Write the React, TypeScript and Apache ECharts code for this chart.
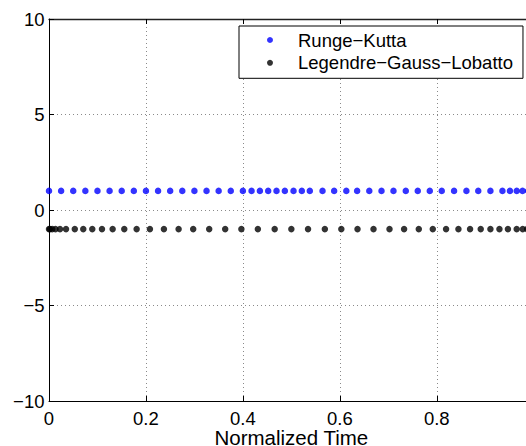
import React, { useEffect, useRef } from "react";
import * as echarts from "echarts";

// Runge-Kutta sample times (normalized), value 1
const rkTimes = [
  0, 0.025, 0.05, 0.075, 0.1, 0.125, 0.15, 0.175, 0.2, 0.225, 0.25, 0.275, 0.3,
  0.325, 0.35, 0.375, 0.4, 0.4179, 0.4351, 0.4522, 0.4694, 0.4866, 0.5045,
  0.5216, 0.5381, 0.5643, 0.5883, 0.6134, 0.6357, 0.6608, 0.686, 0.7107,
  0.7361, 0.7608, 0.7856, 0.8103, 0.8357, 0.8612, 0.8856, 0.9107, 0.9355,
  0.951, 0.965, 0.977, 0.9885, 1.0,
];
const rkValue = 1;

// Legendre-Gauss-Lobatto nodes (normalized), value -1
const lglTimes = [
  0, 0.0021, 0.0066, 0.0134, 0.0227, 0.0351, 0.0532, 0.0707, 0.0893, 0.1093,
  0.1313, 0.1553, 0.1808, 0.2082, 0.2371, 0.2674, 0.2975, 0.3305, 0.3635,
  0.3969, 0.4309, 0.4656, 0.5, 0.5344, 0.5691, 0.6031, 0.6365, 0.6695, 0.7025,
  0.7326, 0.7629, 0.7918, 0.8192, 0.8447, 0.8687, 0.8907, 0.9107, 0.9293,
  0.9468, 0.9649, 0.9773, 0.9866, 0.9934, 0.9979, 1.0,
];
const lglValue = -1;

const seriesNames = ["Runge\u2212Kutta", "Legendre\u2212Gauss\u2212Lobatto"];
const seriesColors = ["#0000ff", "#000000"];
const xAxisTitle = "Normalized Time";

const FONT = "'Liberation Sans', Arial, Helvetica, sans-serif";
const FS = 18.5;

export default function App() {
  const ref = useRef<HTMLDivElement>(null);

  useEffect(() => {
    if (!ref.current) return;
    const chart = echarts.init(ref.current, undefined, { renderer: "svg" });
    const gridLine = { show: true, lineStyle: { color: "#8a8a8a", type: [1, 3] as any, width: 1 } };
    chart.setOption({
      animation: false,
      backgroundColor: "#fff",
      textStyle: { fontFamily: FONT },
      grid: {
        left: 49,
        top: 19,
        width: 484.7,
        height: 382,
        containLabel: false,
        outerBoundsMode: "none",
      },
      legend: {
        orient: "vertical",
        left: 239,
        top: 26,
        backgroundColor: "#fff",
        borderColor: "#000",
        borderWidth: 1,
        borderRadius: 0,
        padding: [4.5, 10, 6, 28],
        itemWidth: 6,
        itemHeight: 6,
        itemGap: 3.8,
        icon: "circle",
        data: seriesNames,
        textStyle: { fontFamily: FONT, fontSize: FS, color: "#000", padding: [0, 0, 0, 20] },
      },
      xAxis: [
        {
          type: "value",
          position: "bottom",
          min: 0,
          max: 1,
          interval: 0.2,
          name: xAxisTitle,
          nameLocation: "middle",
          nameGap: 28,
          nameMoveOverlap: false,
          nameTextStyle: { fontFamily: FONT, fontSize: 20.5, lineHeight: 17, color: "#000" },
          axisLine: { show: true, onZero: false, lineStyle: { color: "#000", width: 1 } },
          axisTick: { show: true, inside: true, length: 5, lineStyle: { color: "#000" } },
          axisLabel: {
            margin: 9.75,
            fontFamily: FONT,
            fontSize: FS,
            lineHeight: 16,
            color: "#000",
            showMaxLabel: false,
            formatter: (v: number) => String(+v.toFixed(1)),
          },
          splitLine: gridLine,
        },
        {
          type: "value",
          position: "top",
          min: 0,
          max: 1,
          interval: 0.2,
          axisLine: { show: true, onZero: false, lineStyle: { color: "#222", width: 1.3 } },
          axisTick: { show: true, inside: true, length: 5, lineStyle: { color: "#000" } },
          axisLabel: { show: false },
          splitLine: { show: false },
        },
      ],
      yAxis: [
        {
          type: "value",
          position: "left",
          min: -10,
          max: 10,
          interval: 5,
          axisLine: { show: true, onZero: false, lineStyle: { color: "#000", width: 1 } },
          axisTick: { show: true, inside: true, length: 5, lineStyle: { color: "#000" } },
          axisLabel: {
            margin: 4.5,
            fontFamily: FONT,
            fontSize: FS,
            color: "#000",
            formatter: (v: number) => String(v).replace("-", "\u2212"),
          },
          splitLine: gridLine,
        },
        {
          type: "value",
          position: "right",
          min: -10,
          max: 10,
          interval: 5,
          axisLine: { show: true, onZero: false, lineStyle: { color: "#000", width: 1 } },
          axisTick: { show: true, inside: true, length: 5 },
          axisLabel: { show: false },
          splitLine: { show: false },
        },
      ],
      series: [
        {
          name: seriesNames[0],
          type: "scatter",
          clip: false,
          symbol: "circle",
          symbolSize: 6.5,
          itemStyle: { color: seriesColors[0] },
          data: rkTimes.map((t) => [t, rkValue]),
        },
        {
          name: seriesNames[1],
          type: "scatter",
          clip: false,
          symbol: "circle",
          symbolSize: 6.5,
          itemStyle: { color: seriesColors[1] },
          data: lglTimes.map((t) => [t, lglValue]),
        },
      ],
    });
    return () => chart.dispose();
  }, []);

  return (
    <div
      style={{
        position: "fixed",
        left: 0,
        top: 0,
        width: 526,
        height: 446,
        overflow: "hidden",
        background: "#fff",
      }}
    >
      <div ref={ref} style={{ width: 570, height: 446 }} />
    </div>
  );
}
